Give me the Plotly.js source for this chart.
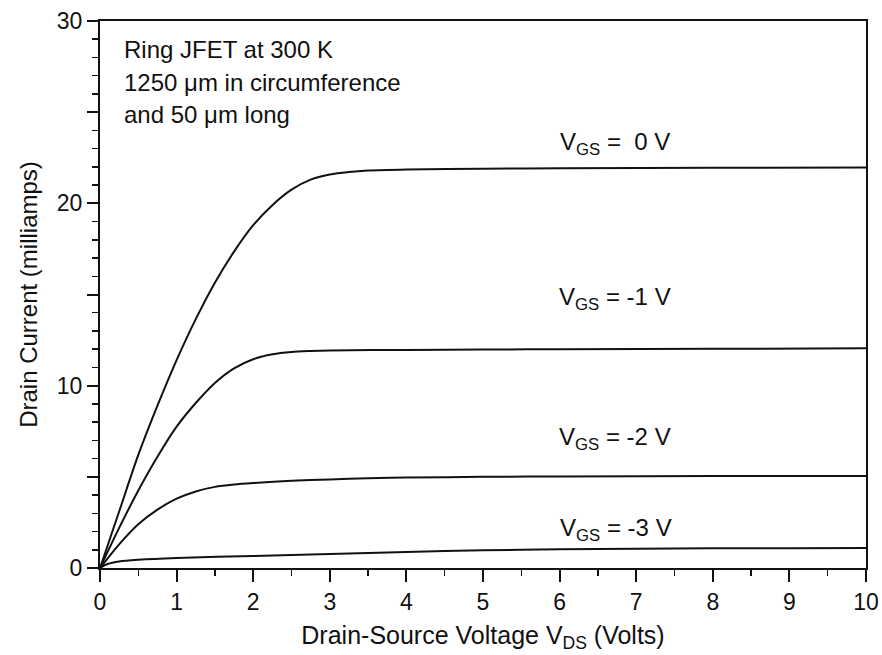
<!DOCTYPE html>
<html>
<head>
<meta charset="utf-8">
<script src="https://cdn.plot.ly/plotly-3.0.1.min.js"></script>
<style>html,body{margin:0;padding:0;background:#fff;}#chart{width:882px;height:655px;}</style>
</head>
<body>
<div id="chart"></div>
<script>
// Drain-source voltage samples (V) and drain currents (mA)
const vds0 = [0, 0.25, 0.5, 0.75, 1.0, 1.25, 1.5, 1.75, 2.0, 2.25, 2.5, 2.75, 3.0, 3.25, 3.5, 4.0, 5.0, 6.0, 8.0, 10.0];
const id0  = [0, 3.1, 6.2, 8.9, 11.4, 13.65, 15.65, 17.35, 18.8, 19.9, 20.75, 21.3, 21.58, 21.72, 21.8, 21.86, 21.9, 21.92, 21.95, 21.97];

const vds1 = [0, 0.25, 0.5, 0.75, 1.0, 1.25, 1.5, 1.75, 2.0, 2.25, 2.5, 2.75, 3.0, 4.0, 5.0, 6.0, 8.0, 10.0];
const id1  = [0, 2.2, 4.25, 6.1, 7.75, 9.05, 10.15, 10.95, 11.45, 11.72, 11.85, 11.9, 11.93, 11.96, 11.98, 12.0, 12.02, 12.05];

const vds2 = [0, 0.25, 0.5, 0.75, 1.0, 1.25, 1.5, 1.75, 2.0, 2.5, 3.0, 3.5, 4.0, 5.0, 6.0, 8.0, 10.0];
const id2  = [0, 1.3, 2.4, 3.2, 3.8, 4.2, 4.45, 4.58, 4.66, 4.78, 4.86, 4.92, 4.96, 5.0, 5.02, 5.04, 5.05];

const vds3 = [0, 0.1, 0.25, 0.5, 1.0, 2.0, 3.0, 4.0, 5.0, 6.0, 7.0, 8.0, 9.0, 10.0];
const id3  = [0, 0.22, 0.36, 0.45, 0.55, 0.66, 0.77, 0.88, 0.97, 1.03, 1.06, 1.08, 1.09, 1.1];

const curveLabels = ['V<sub>GS</sub> =  0 V', 'V<sub>GS</sub> = -1 V', 'V<sub>GS</sub> = -2 V', 'V<sub>GS</sub> = -3 V'];
const labelX = [5.98, 5.96, 5.96, 5.98];
const labelY = [23.3, 14.8, 7.1, 2.1];

const noteLines = ['Ring JFET at 300 K', '1250 μm in circumference', 'and 50 μm long'];
const noteY = [28.45, 26.65, 24.85];

const yTickVals = [0, 5, 10, 15, 20, 25, 30];
const yTickText = ['0', '', '10', '', '20', '', '30'];

const FONT = 'Liberation Sans, Arial, sans-serif';
const INK = '#111';
const lineStyle = {color: INK, width: 2, shape: 'spline', smoothing: 0.8};

const traces = [
  {x: vds0, y: id0, mode: 'lines', line: lineStyle, hoverinfo: 'skip'},
  {x: vds1, y: id1, mode: 'lines', line: lineStyle, hoverinfo: 'skip'},
  {x: vds2, y: id2, mode: 'lines', line: lineStyle, hoverinfo: 'skip'},
  {x: vds3, y: id3, mode: 'lines', line: lineStyle, hoverinfo: 'skip'}
];

const annotations = [];
curveLabels.forEach((t, i) => annotations.push({
  x: labelX[i], y: labelY[i], xref: 'x', yref: 'y', text: t, showarrow: false,
  xanchor: 'left', yanchor: 'middle', font: {family: FONT, size: 24, color: INK}
}));
noteLines.forEach((t, i) => annotations.push({
  x: 0.29, y: noteY[i], xref: 'x', yref: 'y', text: t, showarrow: false,
  xanchor: 'left', yanchor: 'middle', font: {family: FONT, size: 24, color: INK}
}));

const layout = {
  width: 882, height: 655,
  margin: {l: 100, r: 16, t: 21, b: 87},
  paper_bgcolor: '#fff', plot_bgcolor: '#fff',
  showlegend: false,
  font: {family: FONT, size: 23, color: INK},
  xaxis: {
    range: [0, 10], dtick: 1, tick0: 0,
    showgrid: false, zeroline: false,
    showline: true, linecolor: INK, linewidth: 2, mirror: true,
    ticks: 'outside', ticklen: 12, tickwidth: 2, tickcolor: INK,
    minor: {dtick: 0.5, ticks: 'outside', ticklen: 6, tickwidth: 1.5, tickcolor: INK, showgrid: false},
    tickfont: {family: FONT, size: 23, color: INK},
    title: {text: 'Drain-Source Voltage V<sub>DS</sub> (Volts)', font: {family: FONT, size: 25, color: INK}, standoff: 13}
  },
  yaxis: {
    range: [0, 30], tickmode: 'array', tickvals: yTickVals, ticktext: yTickText,
    showgrid: false, zeroline: false,
    showline: true, linecolor: INK, linewidth: 2, mirror: true,
    ticks: 'outside', ticklen: 11, tickwidth: 2, tickcolor: INK,
    minor: {dtick: 1, ticks: 'outside', ticklen: 6, tickwidth: 1.5, tickcolor: INK, showgrid: false},
    tickfont: {family: FONT, size: 23, color: INK},
    title: {text: 'Drain Current (milliamps)', font: {family: FONT, size: 24, color: INK}, standoff: 12}
  },
  annotations: annotations
};

Plotly.newPlot('chart', traces, layout, {staticPlot: true, displayModeBar: false});
</script>
</body>
</html>
